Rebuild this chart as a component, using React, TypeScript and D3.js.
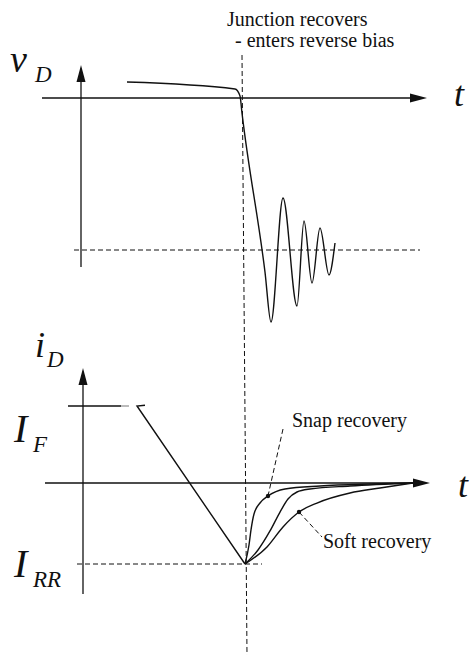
import React from "react";
import * as d3 from "d3";

// time axis (arbitrary units, 0 = junction recovery)
const vTime = [-29, -2, -0.75, -0.25, 5.5, 7, 10, 13.5, 15.25, 17.25, 19.25, 21.5, 23];
const vValue = [0.105, 0.059, 0.013, -0.099, -1.145, -1.474, -0.658, -1.368, -0.809, -1.217, -0.855, -1.164, -0.954];

const rampTime = [-24.5, -26.5, 0.5];
const rampValue = [1.01, 1.0, -1.052];

const snapTime = [0.5, 1.5, 2, 2.75, 4.25, 6.25, 10.5, 19.25, 31.75, 42.5];
const snapValue = [-1.052, -0.805, -0.61, -0.403, -0.26, -0.169, -0.078, -0.039, -0.013, 0];

const midTime = [0.5, 3.75, 6.75, 9.25, 11.25, 13.5, 16.75, 26.75, 42.5];
const midValue = [-1.052, -0.87, -0.623, -0.377, -0.208, -0.117, -0.078, -0.039, 0];

const softTime = [0.5, 6, 10, 14, 18.5, 26.75, 34.25, 42.5];
const softValue = [-1.052, -0.831, -0.571, -0.377, -0.26, -0.13, -0.065, 0];

const IF = 1.0;
const IRR = -1.052;
const VR = -1;
const snapMark = { t: 6.25, i: -0.169 };
const softMark = { t: 14, i: -0.377 };

const labels = {
  title1: "Junction recovers",
  title2: "- enters reverse bias",
  snap: "Snap recovery",
  soft: "Soft recovery",
};

export default function App() {
  const W = 471, H = 658;
  const x = d3.scaleLinear().domain([-50, 50]).range([43, 443]);
  const yV = d3.scaleLinear().domain([0, -1]).range([98, 250]);
  const yI = d3.scaleLinear().domain([0, 1]).range([483, 406]);

  const zip = (a: number[], b: number[]) => a.map((t, k) => [t, b[k]] as [number, number]);

  const vLine = d3.line<[number, number]>().x(d => x(d[0])).y(d => yV(d[1])).curve(d3.curveMonotoneX);
  const iLineCurve = d3.line<[number, number]>().x(d => x(d[0])).y(d => yI(d[1])).curve(d3.curveMonotoneX);
  const iLineLin = d3.line<[number, number]>().x(d => x(d[0])).y(d => yI(d[1]));

  const serif = "'Liberation Serif', 'Times New Roman', serif";
  const stroke = "#111";

  const arrowUp = (cx: number, tip: number) => `M${cx},${tip} L${cx - 4.5},${tip + 17} L${cx + 4.5},${tip + 17} Z`;
  const arrowRight = (cy: number, tip: number) => `M${tip},${cy} L${tip - 17},${cy - 4.5} L${tip - 17},${cy + 4.5} Z`;

  const v0 = yV(0);
  const i0 = yI(0);

  return (
    <svg width={W} height={H} style={{ position: "absolute", left: 0, top: 0, background: "#fff" }}>
      <rect width={W} height={H} fill="#fff" />
      {/* title */}
      <text x={227} y={26} fontFamily={serif} fontSize={20} fill={stroke}>{labels.title1}</text>
      <text x={235} y={47} fontFamily={serif} fontSize={20} fill={stroke}>{labels.title2}</text>

      {/* vertical dashed recovery line */}
      <line x1={242} y1={55} x2={247} y2={655} stroke={stroke} strokeWidth={1} strokeDasharray="5,3" />

      {/* ---- top panel: v_D ---- */}
      <line x1={81} y1={70} x2={81} y2={267} stroke={stroke} strokeWidth={1.3} />
      <path d={arrowUp(81, 65)} fill={stroke} />
      <line x1={42} y1={v0} x2={415} y2={v0} stroke={stroke} strokeWidth={1.3} />
      <path d={arrowRight(v0, 427)} fill={stroke} />
      <line x1={74} y1={yV(VR)} x2={420} y2={yV(VR)} stroke={stroke} strokeWidth={1} strokeDasharray="5,3" />
      <path d={vLine(zip(vTime, vValue)) || ""} fill="none" stroke={stroke} strokeWidth={1.4} />

      <text x={10} y={72} fontFamily={serif} fontStyle="italic" fontSize={38} fill={stroke}>v</text>
      <text x={35} y={82} fontFamily={serif} fontStyle="italic" fontSize={23} fill={stroke}>D</text>
      <text x={454} y={106} fontFamily={serif} fontStyle="italic" fontSize={36} fill={stroke}>t</text>

      {/* ---- bottom panel: i_D ---- */}
      <line x1={83} y1={373} x2={83} y2={594} stroke={stroke} strokeWidth={1.3} />
      <path d={arrowUp(83, 368)} fill={stroke} />
      <line x1={45} y1={i0} x2={418} y2={i0} stroke={stroke} strokeWidth={1.3} />
      <path d={arrowRight(i0, 430)} fill={stroke} />
      <line x1={68} y1={yI(IF)} x2={121} y2={yI(IF)} stroke={stroke} strokeWidth={1.3} />
      <line x1={121} y1={yI(IF)} x2={129} y2={yI(IF)} stroke="#777" strokeWidth={1} />
      <line x1={77} y1={yI(IRR)} x2={262} y2={yI(IRR)} stroke={stroke} strokeWidth={1} strokeDasharray="5,3" />

      <path d={iLineLin(zip(rampTime, rampValue)) || ""} fill="none" stroke={stroke} strokeWidth={1.4} />
      <path d={iLineCurve(zip(snapTime, snapValue)) || ""} fill="none" stroke={stroke} strokeWidth={1.4} />
      <path d={iLineCurve(zip(midTime, midValue)) || ""} fill="none" stroke={stroke} strokeWidth={1.4} />
      <path d={iLineCurve(zip(softTime, softValue)) || ""} fill="none" stroke={stroke} strokeWidth={1.4} />

      {/* leaders */}
      <line x1={283} y1={429} x2={x(snapMark.t)} y2={yI(snapMark.i)} stroke={stroke} strokeWidth={1} strokeDasharray="5,3" />
      <circle cx={x(snapMark.t)} cy={yI(snapMark.i)} r={2.2} fill={stroke} />
      <line x1={x(softMark.t)} y1={yI(softMark.i)} x2={322} y2={537} stroke={stroke} strokeWidth={1} strokeDasharray="5,3" />
      <circle cx={x(softMark.t)} cy={yI(softMark.i)} r={2.2} fill={stroke} />

      <text x={292} y={427} fontFamily={serif} fontSize={20} fill={stroke}>{labels.snap}</text>
      <text x={323} y={548} fontFamily={serif} fontSize={20} fill={stroke}>{labels.soft}</text>

      <text x={35} y={357} fontFamily={serif} fontStyle="italic" fontSize={36} fill={stroke}>i</text>
      <text x={47} y={367} fontFamily={serif} fontStyle="italic" fontSize={23} fill={stroke}>D</text>
      <text x={14} y={442} fontFamily={serif} fontStyle="italic" fontSize={40} fill={stroke}>I</text>
      <text x={33} y={452} fontFamily={serif} fontStyle="italic" fontSize={23} fill={stroke}>F</text>
      <text x={14} y={577} fontFamily={serif} fontStyle="italic" fontSize={40} fill={stroke}>I</text>
      <text x={33} y={587} fontFamily={serif} fontStyle="italic" fontSize={23} fill={stroke}>RR</text>
      <text x={458} y={497} fontFamily={serif} fontStyle="italic" fontSize={36} fill={stroke}>t</text>
    </svg>
  );
}
